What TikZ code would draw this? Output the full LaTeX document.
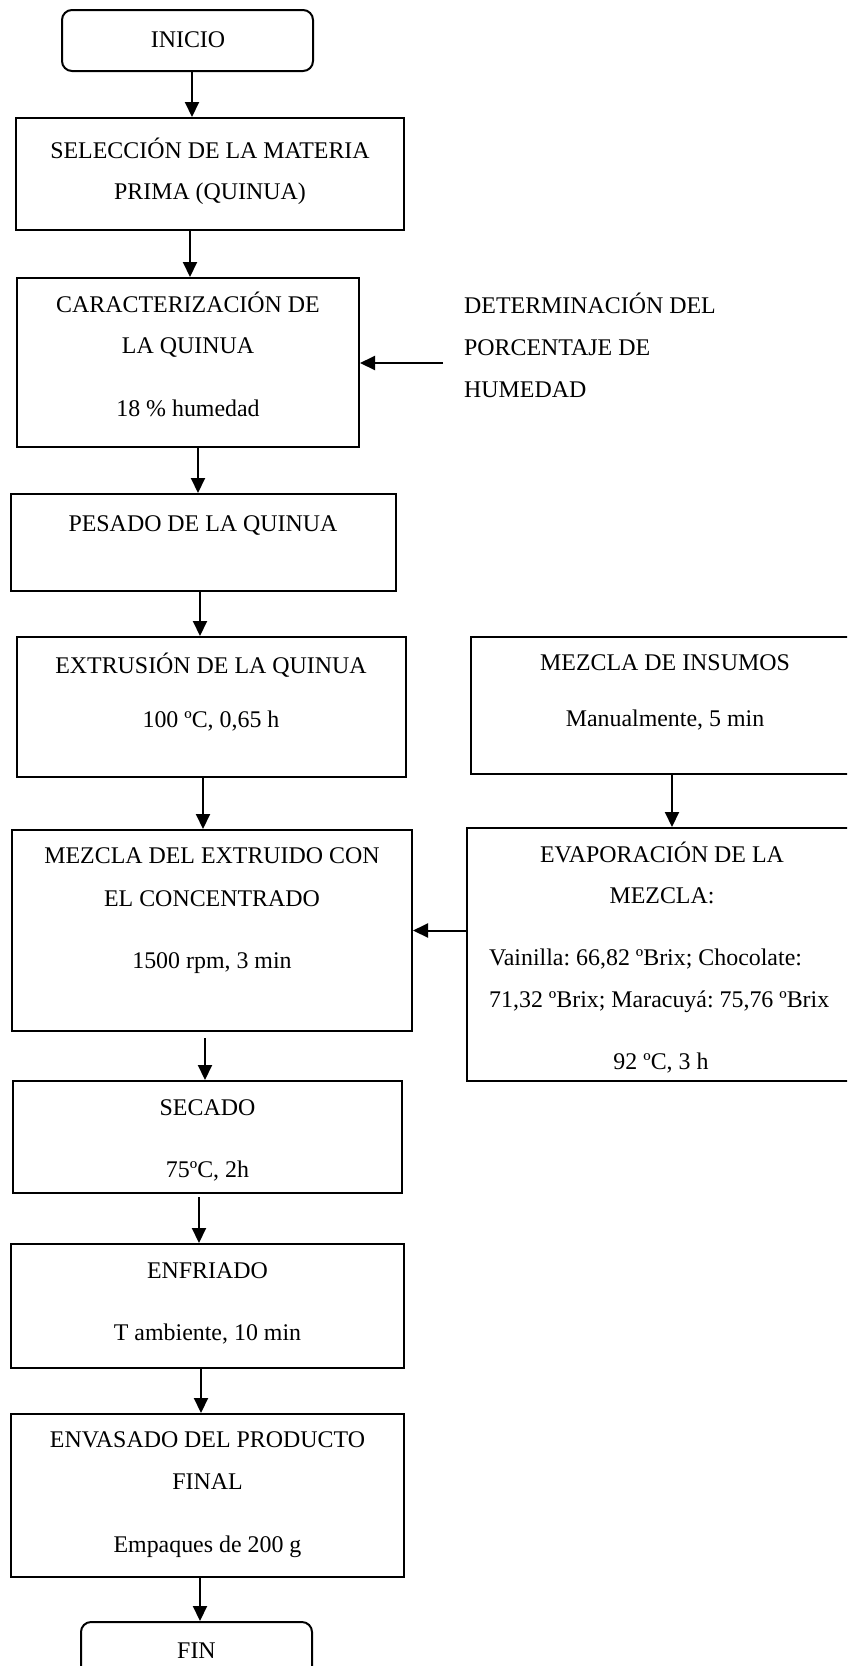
\documentclass[tikz,border=0pt]{standalone}
\usepackage{fontspec}
\setmainfont{Liberation Serif}
\usetikzlibrary{arrows.meta}
\frenchspacing
\tikzset{
  box/.style={draw, line width=2pt, inner sep=0pt},
  startend/.style={box, rounded corners=10pt},
  txt/.style={anchor=base, inner sep=0pt, font=\fontsize{23.9}{28}\selectfont},
  arr/.style={line width=2pt, -{Triangle[length=15pt,width=14pt]}}
}
\begin{document}
\begin{tikzpicture}[x=1pt,y=-1pt]
\useasboundingbox (0,0) rectangle (847,1666);
\clip (0,0) rectangle (847,1666);
% boxes
\node[startend, minimum width=251pt, minimum height=61pt] (inicio) at (187.5,40.5) {};
\node[box, minimum width=388pt, minimum height=112pt] (sel) at (210,174) {};
\node[box, minimum width=342pt, minimum height=169pt] (car) at (188,362.5) {};
\node[box, minimum width=385pt, minimum height=97pt] (pes) at (203.5,542.5) {};
\node[box, minimum width=389pt, minimum height=140pt] (ext) at (211.5,707) {};
\node[box, minimum width=389pt, minimum height=137pt] (ins) at (665.5,705.5) {};
\node[box, minimum width=400pt, minimum height=201pt] (mez) at (212,930.5) {};
\node[box, minimum width=393pt, minimum height=253pt] (evap) at (663.5,954.5) {};
\node[box, minimum width=389pt, minimum height=112pt] (sec) at (207.5,1137) {};
\node[box, minimum width=393pt, minimum height=124pt] (enf) at (207.5,1306) {};
\node[box, minimum width=393pt, minimum height=163pt] (env) at (207.5,1495.5) {};
\node[startend, minimum width=231pt, minimum height=68pt] (fin) at (196.5,1656) {};
% texts
\node[txt] (t1) at (188,47) {INICIO};
\node[txt] (t2) at (210,158) {SELECCIÓN DE LA MATERIA};
\node[txt] (t3) at (210,199) {PRIMA (QUINUA)};
\node[txt] (t4) at (188,312) {CARACTERIZACIÓN DE};
\node[txt] (t5) at (188,353) {LA QUINUA};
\node[txt] (t6) at (188,416) {18 \% humedad};
\node[txt, anchor=base west] (t7) at (464,313) {DETERMINACIÓN DEL};
\node[txt, anchor=base west] (t8) at (464,355) {PORCENTAJE DE};
\node[txt, anchor=base west] (t9) at (464,397) {HUMEDAD};
\node[txt] (t10) at (203,531) {PESADO DE LA QUINUA};
\node[txt] (t11) at (211,673) {EXTRUSIÓN DE LA QUINUA};
\node[txt] (t12) at (211,727) {100 ºC, 0,65 h};
\node[txt] (t13) at (665,670) {MEZCLA DE INSUMOS};
\node[txt] (t14) at (665,726) {Manualmente, 5 min};
\node[txt] (t15) at (212,863) {MEZCLA DEL EXTRUIDO CON};
\node[txt] (t16) at (212,906) {EL CONCENTRADO};
\node[txt] (t17) at (212,968) {1500 rpm, 3 min};
\node[txt] (t18) at (662,862) {EVAPORACIÓN DE LA};
\node[txt] (t19) at (662,903) {MEZCLA:};
\node[txt, anchor=base west] (t20) at (489,965) {Vainilla: 66,82 ºBrix; Chocolate:};
\node[txt, anchor=base west] (t21) at (489,1007) {71,32 ºBrix; Maracuyá: 75,76 ºBrix};
\node[txt] (t22) at (661,1069) {92 ºC, 3 h};
\node[txt] (t23) at (207.5,1115) {SECADO};
\node[txt] (t24) at (207.5,1177) {75ºC, 2h};
\node[txt] (t25) at (207.5,1278) {ENFRIADO};
\node[txt] (t26) at (207.5,1340) {T ambiente, 10 min};
\node[txt] (t27) at (207.5,1447) {ENVASADO DEL PRODUCTO};
\node[txt] (t28) at (207.5,1489) {FINAL};
\node[txt] (t29) at (207.5,1552) {Empaques de 200 g};
\node[txt] (t30) at (196.5,1658) {FIN};
% connectors
\coordinate (detstart) at (443,363);
\draw[arr] (inicio.south -| 192,0) -- (sel.north -| 192,0);
\draw[arr] (sel.south -| 190,0) -- (car.north -| 190,0);
\draw[arr] (car.south -| 198,0) -- (pes.north -| 198,0);
\draw[arr] (pes.south -| 200,0) -- (ext.north -| 200,0);
\draw[arr] (ext.south -| 203,0) -- (mez.north -| 203,0);
\draw[arr] (ins.south -| 672,0) -- (evap.north -| 672,0);
\draw[arr] (detstart) -- (car.east |- detstart);
\draw[arr] (evap.west |- mez.east) -- (mez.east);
\draw[arr] ([yshift=-6pt]mez.south -| 205,0) -- (sec.north -| 205,0);
\draw[arr] ([yshift=-3pt]sec.south -| 199,0) -- (enf.north -| 199,0);
\draw[arr] (enf.south -| 201,0) -- (env.north -| 201,0);
\draw[arr] (env.south -| 200,0) -- (fin.north -| 200,0);
\end{tikzpicture}
\end{document}
